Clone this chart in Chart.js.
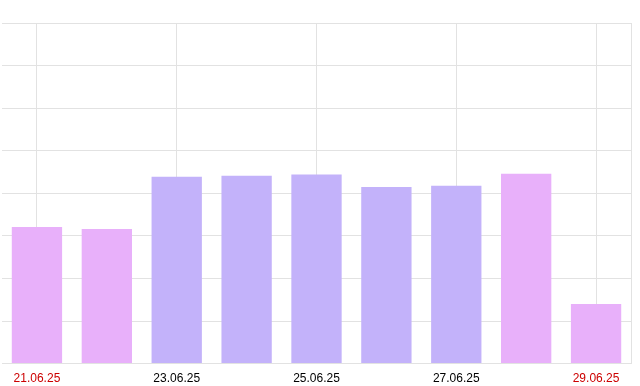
<!DOCTYPE html>
<html>
<head>
<meta charset="utf-8">
<script src="https://cdn.jsdelivr.net/npm/chart.js@4/dist/chart.umd.min.js"></script>
<style>
  html, body { margin: 0; padding: 0; background: #fff; }
  #wrap { width: 640px; height: 386px; }
</style>
</head>
<body>
<div id="wrap"><canvas id="chart"></canvas></div>
<script>
const days = ['21.06.25', '22.06.25', '23.06.25', '24.06.25', '25.06.25', '26.06.25', '27.06.25', '28.06.25', '29.06.25'];
const values = [321, 316, 439, 441, 444, 415, 418, 446, 140];
const weekend = [true, true, false, false, false, false, false, true, true];

const PINK = '#E8B0FA';
const PURPLE = '#C3B2FA';
const GRID = '#e2e2e2';

new Chart(document.getElementById('chart'), {
  type: 'bar',
  data: {
    labels: days,
    datasets: [{
      data: values,
      backgroundColor: weekend.map(w => w ? PINK : PURPLE),
      borderWidth: 0,
      categoryPercentage: 0.8,
      barPercentage: 0.9
    }]
  },
  options: {
    responsive: true,
    maintainAspectRatio: false,
    animation: false,
    layout: { padding: { top: 23, left: 2, right: 9, bottom: -8 } },
    plugins: { legend: { display: false }, tooltip: { enabled: false } },
    scales: {
      x: {
        grid: { offset: false, color: GRID, drawTicks: false },
        border: { color: GRID },
        ticks: {
          autoSkip: true,
          maxTicksLimit: 5,
          maxRotation: 0,
          padding: 8,
          font: { family: 'Liberation Sans, Arial', size: 12 },
          color: (ctx) => weekend[ctx.index] ? '#cc0000' : '#000'
        }
      },
      y: {
        position: 'right',
        min: 0,
        max: 800,
        grid: { color: GRID, drawTicks: false },
        border: { color: GRID },
        ticks: { display: false, stepSize: 100 }
      }
    }
  }
});
</script>
</body>
</html>
